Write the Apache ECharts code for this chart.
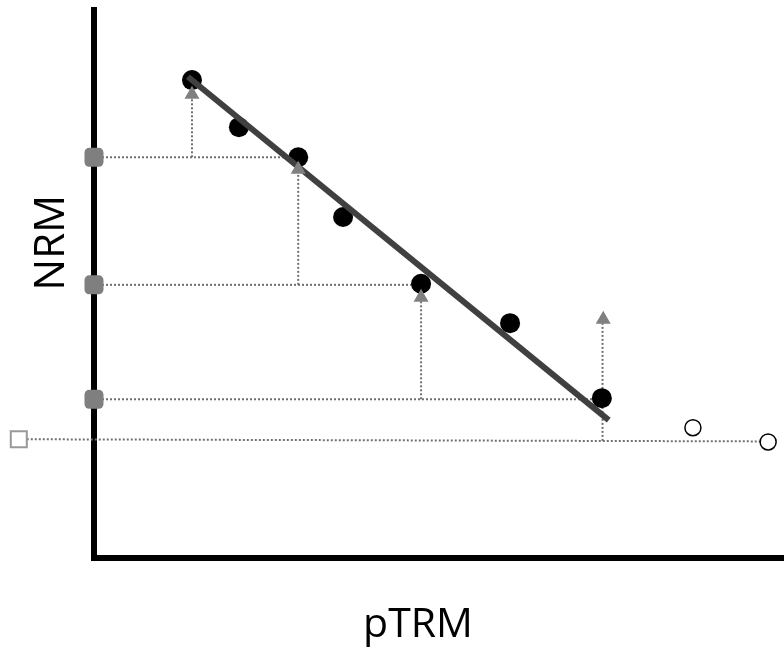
<!DOCTYPE html>
<html><head><meta charset="utf-8">
<script src="https://cdn.jsdelivr.net/npm/echarts@6/dist/echarts.min.js"></script>
<style>html,body{margin:0;padding:0;background:#fff}#c{width:784px;height:648px}</style>
</head><body><div id="c"></div>
<script>
// Arai plot schematic (data in arbitrary units, axes 0..100)
const stepPoints = [[14.2,87.2],[21.0,78.6],[29.6,73.1],[36.1,62.2],[47.4,50.0],[60.3,42.8],[73.6,29.1]];
const rejectedPoints = [[86.8,23.7],[97.7,21.1]];
const ptrmChecks = [[14.2,85.0],[29.6,71.3],[47.4,47.9],[73.8,43.9]];
const nrmChecks = [[0,73.1],[0,49.8],[0,28.9]];
const baselinePoint = [[-10.9,21.6]];
const baselineLine = [[-10.9,21.6],[97.7,21.2]];
const fitLine = [[13.6,87.8],[74.6,25.1]];
const guideLines = [
  [[0,73.1],[29.6,73.1]],
  [[14.2,73.1],[14.2,85.0]],
  [[0,49.8],[47.4,49.8]],
  [[29.6,49.8],[29.6,71.3]],
  [[0,28.9],[73.6,28.9]],
  [[47.4,28.9],[47.4,47.9]],
  [[73.7,21.3],[73.7,43.9]]
];
const xName = 'pTRM';
const yName = 'NRM';
const extMin = -13; // extended x range of the overlay grid (same scale)

const chart = echarts.init(document.getElementById('c'), null, {renderer:'canvas'});
const W = 784, left = 94, pxPerUnit = (W - left) / 100;
const axisCommon = {
  type:'value', min:0, max:100,
  axisTick:{show:false}, axisLabel:{show:false}, splitLine:{show:false},
  axisLine:{show:true, onZero:false, lineStyle:{color:'#000', width:6, cap:'square'}},
  nameLocation:'middle'
};
const hiddenAxis = {type:'value', max:100, show:false, axisLine:{show:false}, splitLine:{show:false}};
const dotted = {color:'#707070', width:2, type:'dotted'};
const series = [];
guideLines.forEach(seg => series.push({
  type:'line', data:seg, symbol:'none', clip:false, silent:true, z:1, lineStyle:dotted
}));
series.push({type:'line', data:baselineLine, xAxisIndex:1, yAxisIndex:1, symbol:'none', clip:false, z:1, lineStyle:dotted});
series.push({type:'scatter', data:stepPoints, symbol:'circle', symbolSize:20, z:2,
  itemStyle:{color:'#000', opacity:1}});
series.push({type:'line', data:fitLine, symbol:'none', z:3, clip:false,
  lineStyle:{color:'#404040', width:6}});
series.push({type:'scatter', data:ptrmChecks, symbol:'triangle', symbolSize:[15,13], z:4,
  itemStyle:{color:'#808080', opacity:1}});
series.push({type:'scatter', data:nrmChecks, symbol:'roundRect', symbolSize:19, z:4, clip:false,
  itemStyle:{color:'#7f7f7f', opacity:1}});
series.push({type:'scatter', data:rejectedPoints, symbol:'circle', symbolSize:16, z:4, clip:false,
  itemStyle:{color:'#fff', borderColor:'#000', borderWidth:1.5, opacity:1}});
series.push({type:'scatter', data:baselinePoint, xAxisIndex:1, yAxisIndex:1, symbol:'rect', symbolSize:16, z:4, clip:false,
  itemStyle:{color:'#fff', borderColor:'#999', borderWidth:2, opacity:1}});

chart.setOption({
  animation:false,
  backgroundColor:'#fff',
  grid:[
    {left:left, right:0, top:10, bottom:90.5, containLabel:false, outerBoundsMode:'none'},
    {left:left + extMin * pxPerUnit, right:0, top:10, bottom:90.5, containLabel:false, outerBoundsMode:'none'}
  ],
  xAxis:[
    Object.assign({}, axisCommon, {gridIndex:0, name:xName, nameGap:47,
      nameTextStyle:{fontFamily:'Open Sans', color:'#000', fontSize:41, padding:[0,42,0,0]}}),
    Object.assign({}, hiddenAxis, {gridIndex:1, min:extMin})
  ],
  yAxis:[
    Object.assign({}, axisCommon, {gridIndex:0, name:yName, nameGap:21,
      nameTextStyle:{fontFamily:'Open Sans', color:'#000', fontSize:42, padding:[0,0,0,82]}}),
    Object.assign({}, hiddenAxis, {gridIndex:1, min:0})
  ],
  series:series
});
</script></body></html>
